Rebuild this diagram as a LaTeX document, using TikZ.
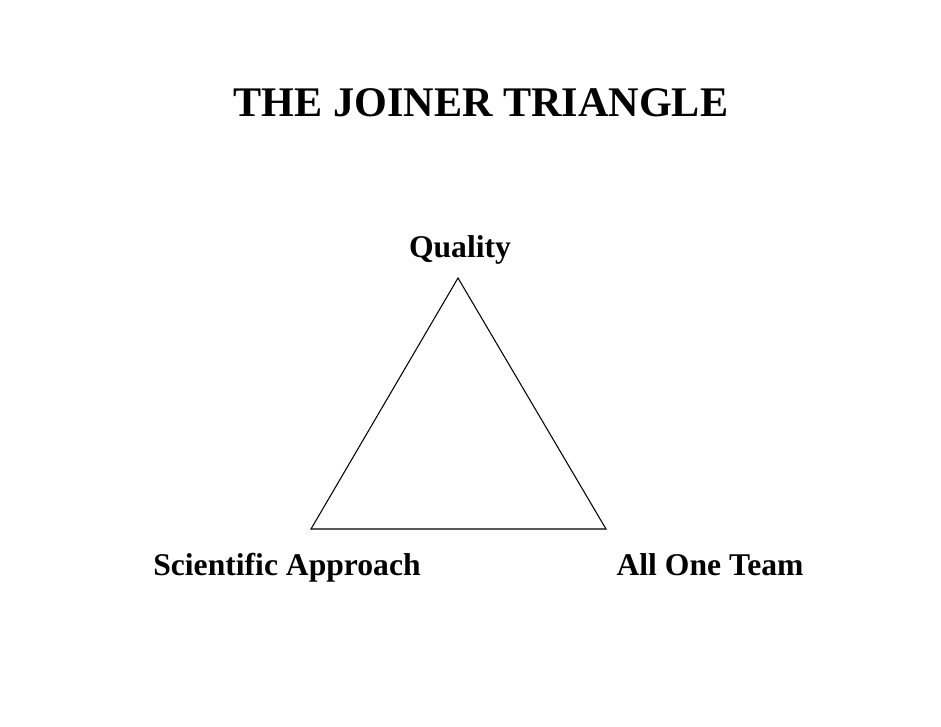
\documentclass[tikz,border=0pt]{standalone}
\usepackage{fontspec}
\setmainfont{Liberation Serif}
\usepackage{tikz}
\usetikzlibrary{calc,positioning}

\begin{document}
\begin{tikzpicture}[x=0.02cm,y=-0.02cm,
    corner/.style={font=\bfseries\fontsize{18}{21}\selectfont,anchor=base,inner sep=0pt}]
    \useasboundingbox (0,0) rectangle (941,727);

    \node [font=\bfseries\fontsize{24}{28}\selectfont,anchor=base,inner sep=0pt] (title) at (481,116) {THE JOINER TRIANGLE};

    \coordinate (top) at (458,278);
    \coordinate (left) at (311,529);
    \coordinate (right) at (606,529);
    \draw [line width=0.6pt] (top) -- (left) -- (right) -- cycle;

    \node [corner] (quality) at (460,257) {Quality};
    \node [corner] (science) at (287,575) {Scientific Approach};
    \node [corner] (team) at (710,575) {All One Team};

  \end{tikzpicture}
\end{document}
